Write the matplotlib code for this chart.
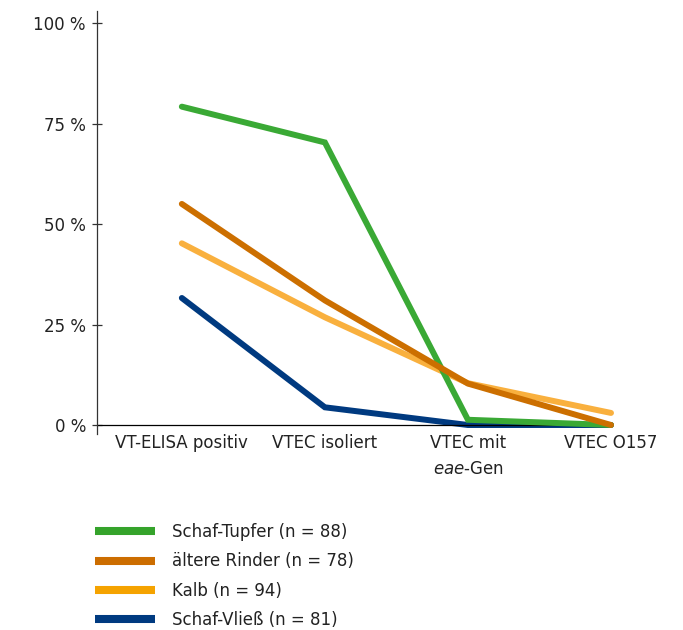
import matplotlib
matplotlib.use("Agg")
import matplotlib.pyplot as plt
from matplotlib.lines import Line2D

# Categories (x axis) and percentages per sample group
categories = ["VT-ELISA positiv", "VTEC isoliert", "VTEC mit\n$\\it{eae}$-Gen", "VTEC O157"]
series_names = ["Schaf-Tupfer (n = 88)", "ältere Rinder (n = 78)", "Kalb (n = 94)", "Schaf-Vließ (n = 81)"]
schaf_tupfer = [79.2, 70.3, 1.3, 0.0]
aeltere_rinder = [55.0, 31.0, 10.3, 0.0]
kalb = [45.2, 26.8, 10.4, 3.0]
schaf_vliess = [31.6, 4.4, 0.0, 0.0]
y_ticks = [0, 25, 50, 75, 100]
y_tick_labels = ["0 %", "25 %", "50 %", "75 %", "100 %"]

plt.rcParams["font.family"] = ["DejaVu Sans"]
text_color = "#222222"

fig = plt.figure(figsize=(6.83, 6.30), dpi=100)
ax = fig.add_axes([97 / 683, 196 / 630, (611 - 97) / 683, 423 / 630])

x = list(range(len(categories)))
line_styles = [
    (schaf_tupfer, "#3aa935", "#35a32b", 4),
    (aeltere_rinder, "#cc6f00", "#cc6d00", 5),
    (kalb, "#f9b03e", "#f5a300", 3),
    (schaf_vliess, "#003a80", "#003a80", 2),
]

handles = []
for (vals, lc, hc, z), name in zip(line_styles, series_names):
    ax.plot(x, vals, color=lc, lw=4.3, solid_capstyle="round",
            solid_joinstyle="miter", zorder=z, clip_on=False)
    handles.append(Line2D([], [], color=hc, lw=5.8, solid_capstyle="butt"))

ax.axhline(0, color="black", lw=0.9, zorder=2.5)

ax.set_xlim(-0.593, 3)
ax.set_ylim(-2.24, 103)

for s in ["top", "right", "bottom"]:
    ax.spines[s].set_visible(False)
ax.spines["left"].set_color("#333333")
ax.spines["left"].set_linewidth(0.9)

ax.set_yticks(y_ticks)
ax.set_yticklabels(y_tick_labels)
ax.tick_params(axis="y", direction="inout", length=7, width=0.9, color="#333333",
               pad=4.5, labelsize=12, labelcolor=text_color)
ax.set_xticks(x)
ax.set_xticklabels(categories, linespacing=1.55)
ax.tick_params(axis="x", length=0, pad=0, labelsize=12, labelcolor=text_color)

fig.legend(handles, series_names, loc="center left",
           bbox_to_anchor=(95 / 683, (630 - 576) / 630),
           frameon=False, fontsize=12, handlelength=3.6, handletextpad=1.0,
           labelspacing=0.67, borderpad=0, borderaxespad=0,
           labelcolor=text_color)

fig.savefig("out.png", dpi=100)
